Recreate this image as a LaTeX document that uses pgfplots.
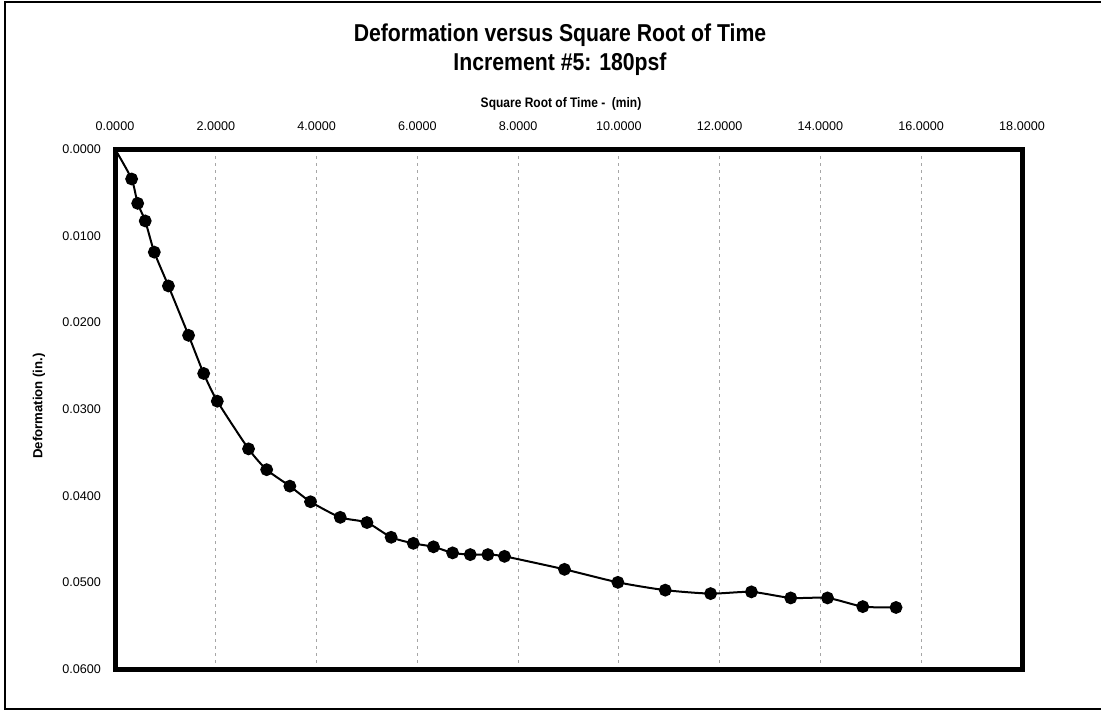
\documentclass[border=0pt]{standalone}
\usepackage{fontspec}
\setmainfont{Liberation Sans}
\newfontfamily\narrowsans[FakeStretch=0.87]{Liberation Sans}
\usepackage{pgfplots}
\pgfplotsset{compat=1.18}

% deformation (in.) against square root of time (min)
\pgfplotstableread{
x y
0.00 0.0000
0.33 0.00346
0.45 0.00627
0.60 0.0083
0.78 0.0119
1.06 0.0158
1.46 0.0215
1.76 0.0259
2.03 0.0291
2.65 0.0346
3.01 0.0370
3.47 0.0389
3.88 0.0407
4.47 0.0425
5.00 0.0431
5.48 0.0448
5.92 0.0455
6.32 0.0459
6.70 0.0466
7.05 0.0468
7.40 0.0468
7.73 0.0470
8.92 0.0485
9.98 0.0500
10.92 0.0509
11.82 0.0513
12.63 0.0511
13.41 0.0518
14.14 0.0518
14.84 0.0528
15.50 0.0529
}\deftable

\begin{document}
\begin{tikzpicture}
\useasboundingbox (-57.5pt,-21pt) rectangle (493pt,334.5pt);
% outer chart border
\draw[line width=1pt] (493pt,333.5pt) -- (-55pt,333.5pt) -- (-55pt,-20pt) -- (493pt,-20pt);

\begin{axis}[
  at={(0,0)}, anchor=south west,
  scale only axis,
  width=453.5pt, height=260pt,
  xmin=0, xmax=18,
  ymin=0, ymax=0.06,
  y dir=reverse,
  xtick={0,2,...,18},
  ytick={0,0.01,...,0.06},
  xticklabel pos=right,
  major tick length=0pt,
  axis line style={line width=2.5pt},
  xmajorgrids,
  major grid style={gray!70, line width=0.4pt, dash pattern=on 1.5pt off 2pt},
  /pgf/number format/assume math mode=true,
  xticklabel={\pgfmathprintnumber[fixed,fixed zerofill,precision=4]{\tick}},
  yticklabel={\pgfmathprintnumber[fixed,fixed zerofill,precision=4]{\tick}},
  scaled y ticks=false,
  tick label style={font=\fontsize{6.3}{7}\selectfont},
  xticklabel style={anchor=base, yshift=9.5pt},
  yticklabel style={anchor=east, xshift=-3.5pt},
  clip=false,
]
\addplot[black, line width=1pt, smooth, tension=0.4,
  mark=*, mark size=2.7pt, mark indices={2,...,31}] table {\deftable};
\end{axis}

\node[font=\narrowsans\bfseries\fontsize{12.2}{14}\selectfont] at (222.5pt,317pt)
  {Deformation versus Square Root of Time};
\node[font=\narrowsans\bfseries\fontsize{12.2}{14}\selectfont] at (222.5pt,302.3pt)
  {Increment \#5: 180psf};
\node[font=\narrowsans\bfseries\fontsize{6.9}{8}\selectfont] at (223pt,282.5pt)
  {Square Root of Time -\ \ (min)};
\node[font=\bfseries\fontsize{6.6}{8}\selectfont, rotate=90] at (-38pt,131.5pt)
  {Deformation (in.)};
\end{tikzpicture}
\end{document}
